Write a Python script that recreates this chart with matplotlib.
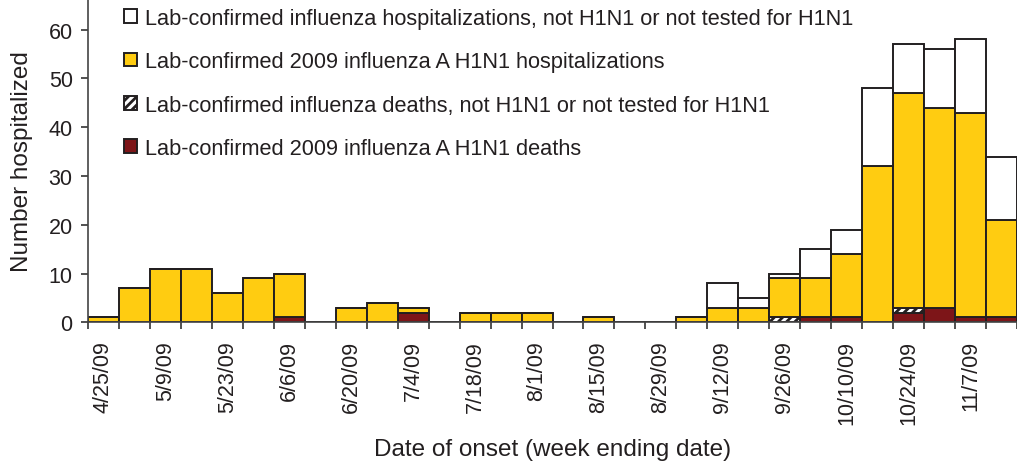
import matplotlib
matplotlib.use("Agg")
import matplotlib.pyplot as plt
import numpy as np

weeks = ['4/25/09', '5/2/09', '5/9/09', '5/16/09', '5/23/09', '5/30/09', '6/6/09',
         '6/13/09', '6/20/09', '6/27/09', '7/4/09', '7/11/09', '7/18/09', '7/25/09',
         '8/1/09', '8/8/09', '8/15/09', '8/22/09', '8/29/09', '9/5/09', '9/12/09',
         '9/19/09', '9/26/09', '10/3/09', '10/10/09', '10/17/09', '10/24/09',
         '10/31/09', '11/7/09', '11/14/09']

h1n1_deaths = [0, 0, 0, 0, 0, 0, 1, 0, 0, 0, 2, 0, 0, 0, 0, 0, 0, 0, 0, 0,
               0, 0, 0, 1, 1, 0, 2, 3, 1, 1]
other_deaths = [0, 0, 0, 0, 0, 0, 0, 0, 0, 0, 0, 0, 0, 0, 0, 0, 0, 0, 0, 0,
                0, 0, 1, 0, 0, 0, 1, 0, 0, 0]
h1n1_hosp = [1, 7, 11, 11, 6, 9, 9, 0, 3, 4, 1, 0, 2, 2, 2, 0, 1, 0, 0, 1,
             3, 3, 8, 8, 13, 32, 44, 41, 42, 20]
other_hosp = [0, 0, 0, 0, 0, 0, 0, 0, 0, 0, 0, 0, 0, 0, 0, 0, 0, 0, 0, 0,
              5, 2, 1, 6, 5, 16, 10, 12, 15, 13]

labels = ['Lab-confirmed influenza hospitalizations, not H1N1 or not tested for H1N1',
          'Lab-confirmed 2009 influenza A H1N1 hospitalizations',
          'Lab-confirmed influenza deaths, not H1N1 or not tested for H1N1',
          'Lab-confirmed 2009 influenza A H1N1 deaths']

plt.rcParams['font.family'] = ['Liberation Sans', 'DejaVu Sans']
plt.rcParams['hatch.linewidth'] = 2.0
txt = '#231f20'
edge = '#231f20'

fig = plt.figure(figsize=(10.17, 4.64), dpi=100)
ax = fig.add_axes([88 / 1017, (464 - 323.3) / 464, 1 - 88 / 1017, 323.3 / 464])

x = np.arange(len(weeks))
d1 = np.array(h1n1_deaths)
d2 = np.array(other_deaths)
h1 = np.array(h1n1_hosp)
h2 = np.array(other_hosp)

kw = dict(width=1.0, edgecolor=edge, linewidth=1.4)
b_md = ax.bar(x, d1, color='#7d1518', **kw)
b_od = ax.bar(x, d2, bottom=d1, color='white', hatch='////', **kw)
b_hh = ax.bar(x, h1, bottom=d1 + d2, color='#ffcc11', **kw)
b_oh = ax.bar(x, h2, bottom=d1 + d2 + h1, color='white', **kw)

ax.set_xlim(-0.5, -0.5 + (1017 - 88) / 31.2)
ax.set_ylim(0, 66.3)
ax.set_yticks(range(0, 61, 10))

ax.set_xticks(x[::2])
ax.set_xticklabels(weeks[::2], rotation=90, va='top', ha='center')
ax.set_xticks(np.arange(-0.5, len(weeks), 1.0), minor=True)
ax.tick_params(axis='x', which='major', length=0, pad=13, labelsize=15.5, colors=txt)
ax.tick_params(axis='x', which='minor', length=5, width=1.2, color='#333333')
ax.tick_params(axis='y', length=5, width=1.2, color='#333333', labelsize=15.5,
               labelcolor=txt, pad=6)

for s in ['top', 'right']:
    ax.spines[s].set_visible(False)
for s in ['left', 'bottom']:
    ax.spines[s].set_color('#444444')
    ax.spines[s].set_linewidth(1.2)

ax.set_ylabel('Number hospitalized', fontsize=17.5, color=txt, labelpad=11)
ax.set_xlabel('Date of onset (week ending date)', fontsize=17.5, color=txt, labelpad=10)

leg = ax.legend([b_oh, b_hh, b_od, b_md], labels, loc='upper left',
                bbox_to_anchor=(0.029, 1.0), frameon=False, fontsize=15.7,
                handlelength=0.6, handleheight=0.6, handletextpad=0.37,
                labelspacing=1.03, borderaxespad=0)
for t in leg.get_texts():
    t.set_color(txt)

fig.savefig('out.png', dpi=100)
